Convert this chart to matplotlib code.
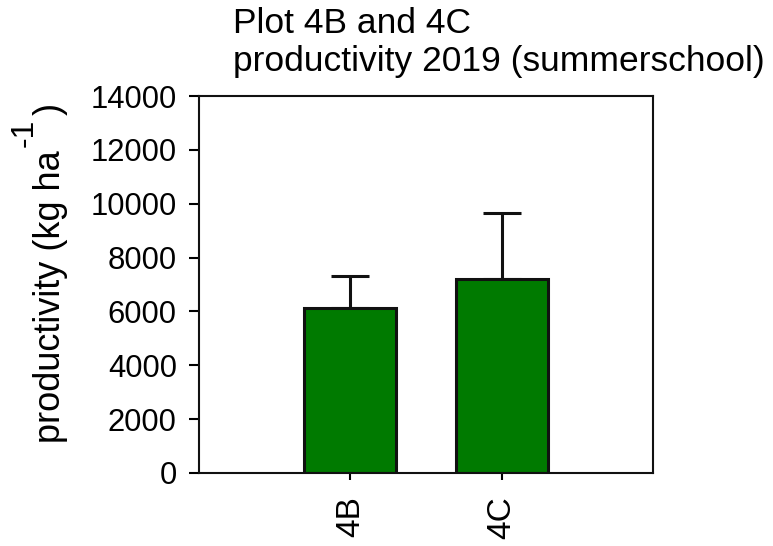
import matplotlib
matplotlib.use("Agg")
import matplotlib.pyplot as plt

plt.rcParams['font.family'] = ['Liberation Sans', 'DejaVu Sans']

categories = ["4B", "4C"]
productivity = [6140, 7215]
errors_up = [1175, 2430]

W, H, DPI = 773, 546, 100
fig = plt.figure(figsize=(W / DPI, H / DPI), dpi=DPI)
ax = fig.add_axes([199 / W, (H - 473) / H, (653 - 199) / W, (473 - 96) / H])

x = [1, 2]
ax.bar(x, productivity, width=0.61, color="#007A00", edgecolor="#111111",
       linewidth=2.2, zorder=2)
ax.errorbar(x, productivity, yerr=[[0, 0], errors_up], fmt="none",
            ecolor="#111111", elinewidth=2.2, capsize=13.5, capthick=2.2, zorder=1)

ax.set_xlim(0, 3)
ax.set_ylim(0, 14000)
ax.set_yticks(range(0, 14001, 2000))
ax.set_xticks(x)
ax.set_xticklabels(categories, rotation=90)
for s in ax.spines.values():
    s.set_linewidth(1.5)
    s.set_color("#111111")
ax.tick_params(axis="y", labelsize=22.3, length=7, width=1.5, pad=9)
ax.tick_params(axis="x", labelsize=24, length=5, width=1.5, pad=12)

# y-axis label built from pieces so the exponent sits well above the baseline
renderer = fig.canvas.get_renderer()
base_x, start_y = 60, 443
lab_kw = dict(rotation=90, rotation_mode="anchor", ha="left", va="baseline")
t1 = fig.text(base_x / W, 1 - start_y / H, "productivity (kg ha", fontsize=26, **lab_kw)
e1 = t1.get_window_extent(renderer)
t2 = fig.text(33 / W, (e1.y1 + 3) / H, "-1", fontsize=23, **lab_kw)
e2 = t2.get_window_extent(renderer)
fig.text(base_x / W, (e2.y1 + 4) / H, ")", fontsize=26, **lab_kw)

fig.text(233 / W, 1 - 7 / H, "Plot 4B and 4C\nproductivity 2019 (summerschool)",
         fontsize=25.5, ha="left", va="top", linespacing=1.2)

fig.savefig("out.png", dpi=DPI)
